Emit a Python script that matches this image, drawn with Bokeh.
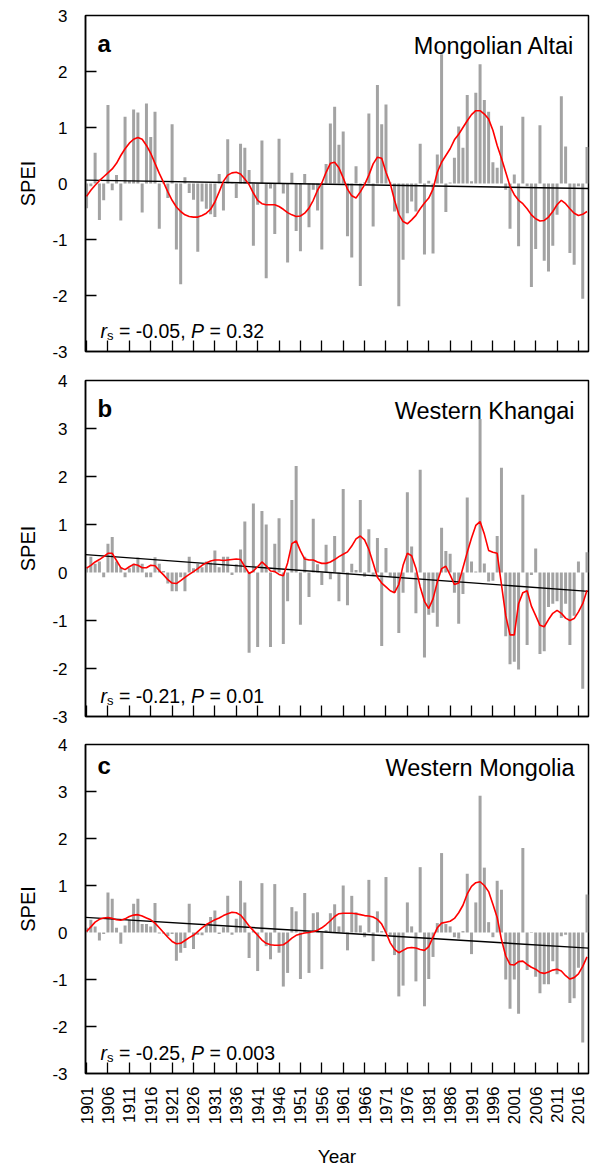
import math
from bokeh.plotting import figure
from bokeh.models import Range1d, FixedTicker, LinearAxis, Label
from bokeh.layouts import column
from bokeh.embed import file_html
from bokeh.resources import INLINE

years = list(range(1901, 2019))
x_ticks = list(range(1901, 2017, 5))

# ---------------- Panel a: Mongolian Altai ----------------
spei_a = [
    -0.44, -0.05, 0.55, -0.65, -0.30, 1.40, -0.12, 0.15, -0.66, 1.19,
    0.05, 1.32, 1.27, -0.52, 1.43, 0.83, 1.28, -0.81, 0.02, -0.26,
    1.06, -1.18, -1.80, 0.11, -0.17, -0.29, -1.22, -0.32, -0.45, -0.55,
    -0.60, 0.17, -0.48, 0.79, 0.02, -0.26, 0.71, 0.64, 0.24, -1.11,
    -0.38, 0.77, -1.69, -0.09, -0.90, 0.80, -0.18, -1.41, 0.19, -0.85,
    -1.21, 0.17, -0.78, -0.11, -0.48, -1.18, 0.35, 1.07, 1.37, 0.69,
    0.93, -0.94, -1.32, 0.31, -1.83, 0.02, 1.25, -0.77, 1.76, 1.06,
    1.41, 0.02, -0.50, -2.19, -1.36, -0.53, -0.32, -0.50, 0.71, -1.27,
    0.05, -1.25, 0.52, 2.31, -0.51, 0.02, 0.46, 1.02, 0.64, 1.58,
    0.04, 1.62, 2.13, 1.49, 1.28, 0.38, 0.28, 1.03, -0.11, -0.81,
    0.16, -1.12, 1.19, -0.05, -1.85, -1.17, 1.04, -1.38, -1.57, -1.11,
    -0.56, 1.56, 0.66, -1.24, -1.45, -0.05, -2.06, 0.65,
]
smooth_a = [
    -0.23, -0.12, -0.03, 0.05, 0.12, 0.19, 0.26, 0.36, 0.50, 0.62,
    0.72, 0.79, 0.82, 0.79, 0.68, 0.54, 0.36, 0.18, 0.02, -0.15,
    -0.30, -0.42, -0.50, -0.56, -0.59, -0.60, -0.60, -0.57, -0.53, -0.46,
    -0.33, -0.15, 0.04, 0.15, 0.19, 0.20, 0.17, 0.08, -0.02, -0.17,
    -0.30, -0.36, -0.38, -0.38, -0.38, -0.41, -0.46, -0.52, -0.56, -0.59,
    -0.58, -0.53, -0.44, -0.30, -0.12, 0.01, 0.20, 0.36, 0.38, 0.28,
    0.10, -0.10, -0.22, -0.26, -0.15, -0.02, 0.15, 0.35, 0.47, 0.45,
    0.20, 0.00, -0.30, -0.55, -0.68, -0.72, -0.65, -0.57, -0.45, -0.35,
    -0.26, -0.10, 0.20, 0.38, 0.50, 0.62, 0.78, 0.88, 1.00, 1.12,
    1.23, 1.30, 1.30, 1.24, 1.15, 0.95, 0.68, 0.45, 0.20, -0.05,
    -0.20, -0.30, -0.36, -0.45, -0.56, -0.63, -0.67, -0.66, -0.60, -0.50,
    -0.38, -0.30, -0.36, -0.45, -0.53, -0.57, -0.55, -0.50,
]
trend_a = [0.06, -0.09]

# ---------------- Panel b: Western Khangai ----------------
spei_b = [
    0.12, 0.33, 0.18, 0.23, -0.10, 0.60, 0.74, 0.23, 0.11, -0.10,
    0.09, 0.18, 0.31, 0.18, -0.10, -0.10, 0.32, 0.18, 0.03, -0.23,
    -0.39, -0.39, -0.10, -0.39, 0.33, 0.09, 0.18, 0.11, 0.23, 0.21,
    0.46, 0.11, 0.33, 0.33, -0.05, 0.17, 0.48, 1.06, -1.67, 1.44,
    -1.55, 1.28, 1.00, -1.55, 0.60, 1.13, -1.49, -0.60, 1.51, 2.22,
    -1.09, 0.33, -0.51, 1.12, 0.17, -0.26, 0.58, -0.14, 0.76, -0.60,
    1.74, -0.68, 0.18, 0.05, 1.51, -0.09, 0.90, -0.07, 0.72, -1.53,
    0.51, -0.09, -0.42, -1.26, -0.42, 1.67, 0.54, -0.85, 2.14, -1.77,
    -0.88, -0.84, -1.13, 0.93, 0.45, 0.39, -0.42, -1.07, -0.45, 1.56,
    0.23, 0.02, 3.20, 0.19, -0.19, -0.17, 0.76, 2.18, -1.33, -1.91,
    -1.86, -2.02, 1.62, -1.51, -0.05, 0.50, -1.70, -1.64, -0.72, -0.65,
    -0.60, -0.95, -0.65, -1.51, -0.90, 0.23, -2.42, 0.42,
]
smooth_b = [
    0.09, 0.15, 0.22, 0.27, 0.33, 0.40, 0.40, 0.25, 0.10, 0.06,
    0.12, 0.17, 0.15, 0.10, 0.10, 0.15, 0.14, 0.04, -0.05, -0.15,
    -0.22, -0.23, -0.17, -0.10, -0.04, 0.02, 0.08, 0.15, 0.20, 0.24,
    0.26, 0.26, 0.25, 0.26, 0.27, 0.28, 0.27, 0.12, -0.02, 0.03,
    0.12, 0.22, 0.14, 0.03, 0.02, -0.04, -0.07, 0.20, 0.60, 0.66,
    0.45, 0.28, 0.26, 0.26, 0.22, 0.19, 0.19, 0.22, 0.27, 0.33,
    0.38, 0.43, 0.55, 0.70, 0.76, 0.68, 0.48, 0.20, -0.10, -0.22,
    -0.30, -0.38, -0.42, -0.25, 0.15, 0.40, 0.35, 0.09, -0.30, -0.60,
    -0.75, -0.55, -0.20, 0.08, 0.13, -0.05, -0.25, -0.22, 0.10, 0.42,
    0.72, 0.98, 1.06, 0.80, 0.46, 0.42, 0.40, -0.25, -0.90, -1.30,
    -1.30, -0.65, -0.42, -0.38, -0.70, -0.90, -1.10, -1.13, -0.98, -0.85,
    -0.79, -0.85, -0.95, -1.00, -0.96, -0.82, -0.65, -0.37,
]
trend_b = [0.37, -0.39]

# ---------------- Panel c: Western Mongolia ----------------
spei_c = [
    0.10, 0.27, 0.13, -0.17, -0.03, 0.85, 0.72, 0.10, -0.24, 0.15,
    0.27, 0.61, 0.72, 0.18, 0.18, 0.13, 0.63, -0.02, -0.02, -0.08,
    -0.03, -0.60, -0.43, -0.33, 0.61, -0.35, -0.05, -0.06, 0.15, 0.33,
    0.47, -0.03, 0.11, 0.78, -0.05, 0.29, 1.10, 0.64, -0.54, 0.03,
    -0.82, 1.05, -0.29, -0.57, 1.03, -0.43, -1.15, -0.86, 0.54, 0.45,
    -0.99, 0.84, -0.86, 0.41, 0.43, -0.78, 0.05, 0.41, 0.60, 0.13,
    1.00, -0.38, 0.78, 0.43, 0.15, -0.10, 1.12, -0.61, 0.45, 0.03,
    1.18, -0.05, -0.48, -1.36, -1.13, 0.64, 0.13, -1.04, 1.39, -1.57,
    -0.99, -0.52, 0.20, 1.69, 0.18, 0.13, -0.10, -0.13, 0.03, 1.25,
    -0.46, 0.64, 2.91, 1.38, 0.22, -0.10, 1.10, 0.91, -1.00, -1.62,
    -1.00, -1.73, 1.80, -0.80, -0.01, -0.94, -1.29, -1.10, -1.10, -0.61,
    -0.89, -0.08, -0.05, -1.50, -1.40, -0.75, -2.34, 0.81,
]
smooth_c = [
    0.02, 0.12, 0.22, 0.28, 0.31, 0.32, 0.30, 0.27, 0.26, 0.29,
    0.34, 0.37, 0.38, 0.35, 0.31, 0.27, 0.20, 0.10, 0.00, -0.10,
    -0.19, -0.24, -0.23, -0.17, -0.11, -0.06, 0.02, 0.10, 0.17, 0.22,
    0.27, 0.31, 0.36, 0.40, 0.43, 0.42, 0.37, 0.26, 0.14, 0.04,
    -0.06, -0.16, -0.23, -0.26, -0.27, -0.27, -0.26, -0.20, -0.12, -0.06,
    -0.03, -0.01, 0.00, 0.02, 0.05, 0.10, 0.17, 0.25, 0.34, 0.40,
    0.41, 0.41, 0.41, 0.40, 0.38, 0.36, 0.35, 0.33, 0.28, 0.18,
    0.00, -0.22, -0.36, -0.43, -0.38, -0.33, -0.32, -0.33, -0.36, -0.38,
    -0.30, -0.10, 0.10, 0.20, 0.22, 0.24, 0.30, 0.42, 0.58, 0.82,
    0.98, 1.06, 1.08, 1.00, 0.87, 0.60, 0.32, -0.15, -0.50, -0.68,
    -0.69, -0.62, -0.61, -0.68, -0.74, -0.78, -0.85, -0.87, -0.84, -0.80,
    -0.78, -0.82, -0.92, -0.99, -0.96, -0.88, -0.72, -0.52,
]
trend_c = [0.32, -0.33]

letters = ["a", "b", "c"]
regions = ["Mongolian Altai", "Western Khangai", "Western Mongolia"]
rs_values = ["-0.05", "-0.21", "-0.25"]
p_values = ["0.32", "0.01", "0.003"]
y_limits = [(-3, 3), (-3, 4), (-3, 4)]

FONT = "Liberation Sans"
GRAY = "#A3A3A3"
X_START, X_END = 1900.75, 2018.35
FIG_W, BORDER_L, BORDER_R = 593, 85, 5

# Arial / Liberation Sans advance widths (per 1000 em) for the stat text
ADV = {' ': 278, '=': 584, '-': 333, '.': 278, ',': 278, 'P': 667, 'r': 333, 's': 500}
for d in "0123456789":
    ADV[d] = 556


def tw(s, size):
    return sum(ADV[c] for c in s) * size / 1000.0


def make_panel(i, bars, smooth, trend, height, top, bottom, bottom_labels):
    y0, y1 = y_limits[i]
    p = figure(width=FIG_W, height=height,
               x_range=Range1d(X_START, X_END), y_range=Range1d(y0, y1),
               output_backend="svg", toolbar_location=None,
               min_border_left=BORDER_L, min_border_right=BORDER_R,
               min_border_top=top, min_border_bottom=bottom,
               background_fill_color="white", border_fill_color="white",
               outline_line_color="black", outline_line_width=1.5, outline_line_alpha=1.0)
    p.grid.visible = False

    p.vbar(x=years, top=bars, bottom=0, width=0.7, fill_color=GRAY, line_color=None)
    # linear trend (from the two read end values)
    slope = (trend[1] - trend[0]) / (years[-1] - years[0])
    tx = [X_START, X_END]
    ty = [trend[0] + slope * (x - years[0]) for x in tx]
    p.line(x=tx, y=ty, line_color="black", line_width=1.4)
    p.line(x=years, y=smooth, line_color="#FF0000", line_width=1.6)

    # x axis: inward ticks
    xa = p.xaxis[0]
    xa.ticker = FixedTicker(ticks=x_ticks)
    xa.major_tick_in = 11
    xa.major_tick_out = 0
    xa.minor_tick_line_color = None
    xa.axis_line_color = "black"
    xa.axis_line_width = 1.5
    xa.major_tick_line_width = 1.3
    if bottom_labels:
        xa.major_label_orientation = math.pi / 2
        xa.major_label_text_font = FONT
        xa.major_label_text_font_size = "17px"
        xa.major_label_text_color = "black"
        xa.major_label_standoff = 13
        xa.axis_label = "Year"
        xa.axis_label_text_font = FONT
        xa.axis_label_text_font_size = "19px"
        xa.axis_label_text_font_style = "normal"
        xa.axis_label_text_color = "black"
        xa.axis_label_standoff = 19
    else:
        xa.major_label_overrides = {t: "" for t in x_ticks}
        xa.major_label_text_font_size = "1px"
        xa.major_label_standoff = 0

    # y axis with inward ticks (no tick at 0 or at the frame edges)
    inner = [v for v in range(y0 + 1, y1) if v != 0]
    ya = p.yaxis[0]
    ya.ticker = FixedTicker(ticks=inner)
    ya.major_tick_in = 11
    ya.major_tick_out = 0
    ya.minor_tick_line_color = None
    ya.axis_line_color = "black"
    ya.axis_line_width = 1.5
    ya.major_tick_line_width = 1.3
    ya.major_label_overrides = {t: "" for t in inner}
    ya.major_label_text_font_size = "1px"
    ya.major_label_standoff = 0

    # label-only y axis
    all_ticks = list(range(y0, y1 + 1))
    la = LinearAxis(ticker=FixedTicker(ticks=all_ticks),
                    axis_line_color=None, major_tick_line_color=None,
                    minor_tick_line_color=None,
                    major_label_text_font=FONT, major_label_text_font_size="17px",
                    major_label_text_color="black", major_label_standoff=12,
                    major_label_overrides={t: str(t) for t in all_ticks},
                    axis_label="SPEI", axis_label_text_font=FONT,
                    axis_label_text_font_size="20px", axis_label_text_font_style="normal",
                    axis_label_text_color="black", axis_label_standoff=10)
    p.add_layout(la, "left")

    fh = height - top - bottom
    fw = FIG_W - BORDER_L - BORDER_R

    p.add_layout(Label(x=12, y=fh - 27.5, x_units="screen", y_units="screen",
                       text=letters[i], text_font=FONT, text_font_size="24px",
                       text_font_style="bold", text_color="black",
                       text_baseline="alphabetic", text_align="left"))
    p.add_layout(Label(x=fw - 14, y=fh - 30.5, x_units="screen", y_units="screen",
                       text=regions[i], text_font=FONT, text_font_size="23.5px",
                       text_color="black", text_baseline="alphabetic", text_align="right"))

    # r_s = ..., P = ...   (pieces placed without leading/trailing spaces)
    fs, ss = 19.5, 13
    by = 21
    sp = tw(" ", fs)
    x = 15
    pieces = []
    pieces.append(("r", x, by, fs, "italic")); x += tw("r", fs)
    pieces.append(("s", x, by - 5, ss, "normal")); x += tw("s", ss) + sp
    pieces.append(("=", x, by, fs, "normal")); x += tw("=", fs) + sp
    t1 = rs_values[i] + ","
    pieces.append((t1, x, by, fs, "normal")); x += tw(t1, fs) + sp
    pieces.append(("P", x, by, fs, "italic")); x += tw("P", fs) + sp
    pieces.append(("=", x, by, fs, "normal")); x += tw("=", fs) + sp
    pieces.append((p_values[i], x, by, fs, "normal"))
    for txt, px_, py_, size, style in pieces:
        p.add_layout(Label(x=px_, y=py_, x_units="screen", y_units="screen",
                           text=txt, text_font=FONT, text_font_size=f"{size}px",
                           text_font_style=style, text_color="black",
                           text_baseline="alphabetic", text_align="left"))
    return p


pa = make_panel(0, spei_a, smooth_a, trend_a, 365, 15, 14, False)
pb = make_panel(1, spei_b, smooth_b, trend_b, 365, 15, 14, False)
pc = make_panel(2, spei_c, smooth_c, trend_c, 440, 14, 90, True)

layout = column(pa, pb, pc, spacing=0)
open("out.html", "w").write(file_html(layout, INLINE))
